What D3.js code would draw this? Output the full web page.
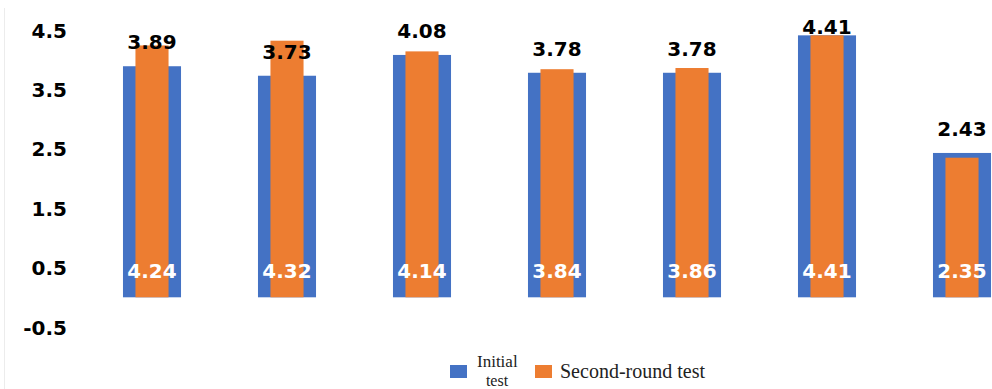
<!DOCTYPE html>
<html>
<head>
<meta charset="utf-8">
<script src="https://cdn.jsdelivr.net/npm/d3@7"></script>
<style>
  html, body { margin: 0; padding: 0; background: #fff; }
  svg { display: block; }
</style>
</head>
<body>
<div id="chart"></div>
<script>
// Scores per item for the two rounds of testing
const categories = ["Item 1", "Item 2", "Item 3", "Item 4", "Item 5", "Item 6", "Item 7"];
const initialTest = [3.89, 3.73, 4.08, 3.78, 3.78, 4.41, 2.43];
const secondRound = [4.24, 4.32, 4.14, 3.84, 3.86, 4.41, 2.35];
const yTicks = [-0.5, 0.5, 1.5, 2.5, 3.5, 4.5];

const W = 992, H = 389;
const blue = "#4472C4", orange = "#ED7D31";
const labelFont = "'DejaVu Sans', sans-serif";
const serifFont = "'Liberation Serif', 'Times New Roman', serif";

const svg = d3.select("#chart").append("svg")
  .attr("width", W).attr("height", H);

svg.append("rect").attr("width", W).attr("height", H).attr("fill", "#fff");

// faint frame edge on the left
svg.append("line")
  .attr("x1", 4.5).attr("x2", 4.5).attr("y1", 8).attr("y2", H)
  .attr("stroke", "#ececec").attr("stroke-width", 1);

const x = d3.scaleBand()
  .domain(categories)
  .range([84.5, 1029.5])
  .paddingInner(0.57)
  .paddingOuter(0.285);

const y = d3.scaleLinear().domain([-0.5, 4.5]).range([327, 30]);

// y axis: labels only, plain hyphen for negatives
const yAxis = d3.axisLeft(y).tickValues(yTicks).tickFormat(d => d.toFixed(1)).tickSize(0).tickPadding(0);
const gy = svg.append("g").attr("transform", "translate(67,0)").call(yAxis);
gy.select(".domain").remove();
gy.selectAll("text")
  .attr("font-family", labelFont)
  .attr("font-weight", "bold")
  .attr("font-size", 20)
  .attr("fill", "#000")
  .attr("dy", "0.35em");

const rows = categories.map((c, i) => ({ c, a: initialTest[i], b: secondRound[i] }));

// initial test bars (wide, behind)
svg.append("g").selectAll("rect").data(rows).join("rect")
  .attr("x", d => x(d.c))
  .attr("width", x.bandwidth())
  .attr("y", d => y(d.a))
  .attr("height", d => y(0) - y(d.a))
  .attr("fill", blue);

// second-round bars (narrow, in front)
const innerW = x.bandwidth() * 0.57;
svg.append("g").selectAll("rect").data(rows).join("rect")
  .attr("x", d => x(d.c) + (x.bandwidth() - innerW) / 2)
  .attr("width", innerW)
  .attr("y", d => y(d.b))
  .attr("height", d => y(0) - y(d.b))
  .attr("fill", orange);

// initial test values above the bars
svg.append("g").selectAll("text").data(rows).join("text")
  .attr("x", d => x(d.c) + x.bandwidth() / 2)
  .attr("y", d => Math.max(y(d.a) - 24, 27))
  .attr("dy", "0.36em")
  .attr("text-anchor", "middle")
  .attr("font-family", labelFont)
  .attr("font-weight", "bold")
  .attr("font-size", 20)
  .attr("fill", "#000")
  .text(d => d.a.toFixed(2));

// second-round values near the base
svg.append("g").selectAll("text").data(rows).join("text")
  .attr("x", d => x(d.c) + x.bandwidth() / 2)
  .attr("y", y(0) - 27)
  .attr("dy", "0.36em")
  .attr("text-anchor", "middle")
  .attr("font-family", labelFont)
  .attr("font-weight", "bold")
  .attr("font-size", 20)
  .attr("fill", "#fff")
  .text(d => d.b.toFixed(2));

// legend
const lg = svg.append("g");
lg.append("rect").attr("x", 450).attr("y", 365).attr("width", 17).attr("height", 13).attr("fill", blue);
lg.append("text").attr("x", 477).attr("y", 361).attr("dy", "0.35em")
  .attr("font-family", serifFont).attr("font-size", 17).attr("fill", "#222").text("Initial");
lg.append("text").attr("x", 497).attr("y", 380).attr("dy", "0.35em").attr("text-anchor", "middle")
  .attr("font-family", serifFont).attr("font-size", 16).attr("fill", "#222").text("test");
lg.append("rect").attr("x", 535).attr("y", 365).attr("width", 17).attr("height", 13).attr("fill", orange);
lg.append("text").attr("x", 560).attr("y", 371).attr("dy", "0.35em")
  .attr("font-family", serifFont).attr("font-size", 20).attr("fill", "#222").text("Second-round test");
</script>
</body>
</html>
